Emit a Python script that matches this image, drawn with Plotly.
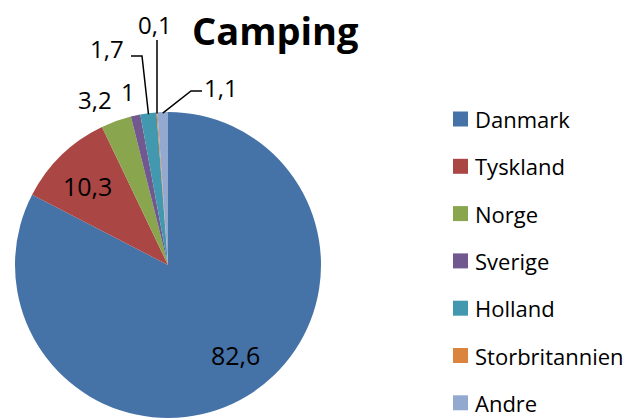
import math
import plotly.graph_objects as go

# ---- data ----
countries = ["Danmark", "Tyskland", "Norge", "Sverige", "Holland", "Storbritannien", "Andre"]
shares = [82.6, 10.3, 3.2, 1, 1.7, 0.1, 1.1]
colors = ["#4572A7", "#AA4643", "#89A54E", "#71588F", "#4198AF", "#DB843D", "#93A9CF"]
title_text = "Camping"

# ---- layout constants (pixels) ----
W, H = 634, 420
CX, CY, R = 168, 265, 153
FONT = "Open Sans"

def px(x):
    return x / W

def py(y):
    return 1 - y / H

def fmt(v):
    return f"{v:g}".replace(".", ",")

# slice mid angles (clockwise from 12 o'clock), derived from data
total = sum(shares)
mids = []
acc = 0
for v in shares:
    mids.append((acc + v / 2) / total * 2 * math.pi)
    acc += v

def polar(ang, r):
    return CX + r * math.sin(ang), CY - r * math.cos(ang)

fig = go.Figure()
fig.add_trace(go.Pie(
    labels=countries, values=shares, sort=False, direction="clockwise", rotation=0,
    marker=dict(colors=colors, line=dict(width=0)),
    textinfo="none", hoverinfo="label+value", showlegend=False,
    domain=dict(x=[px(CX - R), px(CX + R)], y=[py(CY + R), py(CY - R)]),
))

annotations = []
shapes = []

def label(x, y, text, size=24, bold=False, anchor="center"):
    annotations.append(dict(
        x=px(x), y=py(y), xref="paper", yref="paper", xanchor=anchor, yanchor="middle",
        text=f"<b>{text}</b>" if bold else text, showarrow=False, borderpad=0,
        font=dict(family=FONT, size=size, color="#000")))

# inside labels: radius fraction and small pixel nudge per slice
inside = {0: (0.75, 8, -8), 1: (0.72, -4, 0)}
for i, (rf, dx, dy) in inside.items():
    x, y = polar(mids[i], R * rf)
    label(x + dx, y + dy, fmt(shares[i]), size=25)

# outside labels: label centre (px), leader-line elbow (px or None)
outside = {
    2: ((95, 99), None),
    3: ((128, 91), None),
    4: ((107, 48), (131, 56, 142, 56)),
    5: ((155, 24), (157, 40, 157, 40)),
    6: ((221, 87), (202, 91, 191, 91)),
}
for i, ((lx, ly), elbow) in outside.items():
    label(lx, ly, fmt(shares[i]))
    if elbow:
        ex, ey = polar(mids[i], R - 1)
        x0, y0, x1, y1 = elbow
        path = f"M{px(x0)},{py(y0)} L{px(x1)},{py(y1)} L{px(ex)},{py(ey)}"
        shapes.append(dict(type="path", xref="paper", yref="paper", path=path,
                           line=dict(color="#000", width=1.5)))

# title
label(275, 30, title_text, size=38, bold=True)

# legend (drawn manually so the spacing matches)
LEG_X, LEG_Y0, LEG_DY, SQ = 453, 119, 47.3, 15
for k, (name, col) in enumerate(zip(countries, colors)):
    yc = LEG_Y0 + k * LEG_DY
    shapes.append(dict(type="rect", xref="paper", yref="paper",
                       x0=px(LEG_X), x1=px(LEG_X + SQ),
                       y0=py(yc + SQ / 2), y1=py(yc - SQ / 2),
                       fillcolor=col, line=dict(width=0)))
    label(LEG_X + SQ + 6, yc, name, size=22, anchor="left")

fig.update_layout(
    width=W, height=H, margin=dict(l=0, r=0, t=0, b=0),
    paper_bgcolor="white", plot_bgcolor="white",
    annotations=annotations, shapes=shapes,
    font=dict(family=FONT),
)

fig.write_html("out.html", config={"displayModeBar": False},
               post_script="document.body.style.margin='0';")
